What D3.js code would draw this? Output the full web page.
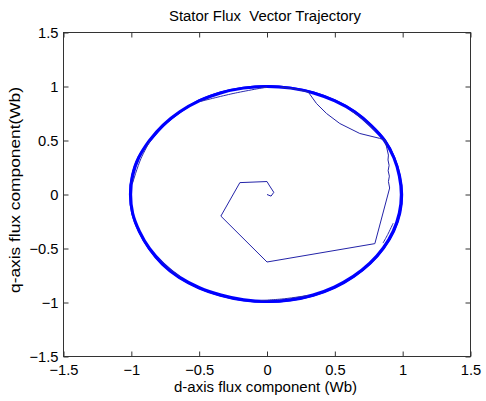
<!DOCTYPE html>
<html>
<head>
<meta charset="utf-8">
<script src="https://cdn.jsdelivr.net/npm/d3@7"></script>
<style>
  html, body { margin: 0; padding: 0; background: #fff; }
  svg { display: block; }
  text { font-family: "Liberation Sans", Arial, sans-serif; fill: #000; }
</style>
</head>
<body>
<svg id="chart" width="486" height="401"></svg>
<script>
// Axis limits and tick labels
const xTicks = [-1.5, -1, -0.5, 0, 0.5, 1, 1.5];
const yTicks = [-1.5, -1, -0.5, 0, 0.5, 1, 1.5];
const titleText = "Stator Flux  Vector Trajectory";
const xLabelText = "d-axis flux component (Wb)";
const yLabelText = "q-axis flux component(Wb)";

// Start-up transient of the stator flux (d, q) in Wb
const transientD = [0.00, 0.03, 0.05, 0.015, 0.00, -0.20, -0.34, 0.00, 0.795, 0.904, 0.895, 0.902, 0.893, 0.900, 0.892, 0.895, 0.87, 0.83, 0.684, 0.537, 0.439, 0.365, 0.304, 0.20, 0.10];
const transientQ = [0.00, -0.015, 0.02, 0.088, 0.12, 0.11, -0.20, -0.625, -0.455, 0.06, 0.12, 0.17, 0.22, 0.27, 0.32, 0.365, 0.503, 0.52, 0.565, 0.657, 0.75, 0.842, 0.949, 0.978, 0.995];

// Steady-state flux circle (one revolution, d, q in Wb)
const circleD = [0.990, 0.975, 0.935, 0.866, 0.762, 0.643, 0.500, 0.342, 0.174, 0.000, -0.174, -0.342, -0.500, -0.643, -0.766, -0.866, -0.944, -0.990, -1.005, -0.990, -0.940, -0.866, -0.766, -0.643, -0.498, -0.339, -0.172, 0.000, 0.172, 0.339, 0.495, 0.636, 0.758, 0.857, 0.930, 0.975];
const circleQ = [0.000, 0.172, 0.340, 0.500, 0.640, 0.766, 0.866, 0.940, 0.985, 1.000, 0.985, 0.940, 0.866, 0.766, 0.643, 0.500, 0.344, 0.175, 0.000, -0.175, -0.342, -0.500, -0.643, -0.766, -0.862, -0.930, -0.975, -0.990, -0.975, -0.930, -0.857, -0.758, -0.636, -0.495, -0.339, -0.172];

// A neighbouring revolution that drifts slightly off the first one
const circle2D = [0.998, 0.982, 0.940, 0.872, 0.770, 0.648, 0.503, 0.345, 0.176, 0.000, -0.176, -0.345, -0.503, -0.640, -0.760, -0.860, -0.950, -0.997, -1.012, -0.995, -0.946, -0.872, -0.775, -0.650, -0.505, -0.344, -0.174, 0.000, 0.174, 0.342, 0.500, 0.641, 0.764, 0.864, 0.938, 0.984];
const circle2Q = [0.000, 0.174, 0.342, 0.503, 0.646, 0.772, 0.872, 0.946, 0.990, 1.006, 0.990, 0.946, 0.872, 0.760, 0.638, 0.497, 0.346, 0.176, 0.000, -0.176, -0.345, -0.503, -0.650, -0.775, -0.870, -0.940, -0.984, -0.998, -0.984, -0.940, -0.866, -0.764, -0.641, -0.498, -0.342, -0.173];

// Short switching chords where the vector cuts inside the circle
const chordsD = [
  [0.00, -0.25, -0.49],
  [-0.86, -0.93, -0.99],
  [-0.79, -0.72, -0.64],
  [0.93, 0.89, 0.855],
  [-0.05, 0.13, 0.30],
  [0.62, 0.71, 0.80]
];
const chordsQ = [
  [0.995, 0.935, 0.862],
  [0.50, 0.33, 0.11],
  [-0.60, -0.685, -0.76],
  [-0.266, -0.37, -0.45],
  [-0.982, -0.965, -0.935],
  [0.775, 0.690, 0.585]
];

const svg = d3.select("#chart");
const x = d3.scaleLinear().domain([-1.5, 1.5]).range([63.5, 470.5]);
const y = d3.scaleLinear().domain([-1.5, 1.5]).range([356.5, 32.5]);

const plot = svg.append("g");

const pts = (ds, qs) => ds.map((d, i) => [d, qs[i]]);
const line = d3.line().x(p => x(p[0])).y(p => y(p[1]));
const loop = d3.line().x(p => x(p[0])).y(p => y(p[1])).curve(d3.curveCatmullRomClosed);
const smooth = d3.line().x(p => x(p[0])).y(p => y(p[1])).curve(d3.curveCatmullRom);

// Steady-state revolutions
plot.append("path")
  .attr("d", loop(pts(circleD, circleQ)))
  .attr("fill", "none").attr("stroke", "#0000ff").attr("stroke-width", 3);
plot.append("path")
  .attr("d", loop(pts(circle2D, circle2Q)))
  .attr("fill", "none").attr("stroke", "#0000ff").attr("stroke-width", 1.6);

// Chords
chordsD.forEach((ds, i) => {
  plot.append("path")
    .attr("d", smooth(pts(ds, chordsQ[i])))
    .attr("fill", "none").attr("stroke", "#2a2ab0").attr("stroke-width", 1);
});

// Transient
plot.append("path")
  .attr("d", line(pts(transientD, transientQ)))
  .attr("fill", "none").attr("stroke", "#2323a8").attr("stroke-width", 1)
  .attr("stroke-linejoin", "round");

// Axes box with inward ticks on all four sides
const axisColor = "#333";
const tickLen = 5;
const xAxisB = d3.axisBottom(x).tickValues(xTicks).tickSizeInner(-tickLen).tickSizeOuter(0).tickPadding(7).tickFormat(d3.format("~g"));
const xAxisT = d3.axisTop(x).tickValues(xTicks).tickSizeInner(-tickLen).tickSizeOuter(0).tickFormat("");
const yAxisL = d3.axisLeft(y).tickValues(yTicks).tickSizeInner(-tickLen).tickSizeOuter(0).tickPadding(5).tickFormat(d3.format("~g"));
const yAxisR = d3.axisRight(y).tickValues(yTicks).tickSizeInner(-tickLen).tickSizeOuter(0).tickFormat("");

function styleAxis(g) {
  g.select(".domain").remove();
  g.selectAll(".tick line").attr("stroke", axisColor);
  g.selectAll(".tick text")
    .style("font-family", "'Liberation Sans', Arial, sans-serif")
    .style("font-size", "14.7px").attr("fill", "#000");
}

svg.append("g").attr("transform", "translate(0,356.5)").call(xAxisB).call(styleAxis);
svg.append("g").attr("transform", "translate(0,32.5)").call(xAxisT).call(styleAxis);
svg.append("g").attr("transform", "translate(63.5,0)").call(yAxisL).call(styleAxis);
svg.append("g").attr("transform", "translate(470.5,0)").call(yAxisR).call(styleAxis);

// x tick labels sit just below the box
svg.selectAll("g").filter(function () { return this.getAttribute("transform") === "translate(0,356.5)"; })
  .selectAll(".tick text").attr("dy", null).attr("y", 18.5);

svg.append("rect")
  .attr("x", 63.5).attr("y", 32.5)
  .attr("width", 407).attr("height", 324)
  .attr("fill", "none").attr("stroke", axisColor).attr("stroke-width", 1);

// Titles
svg.append("text")
  .attr("x", 265).attr("y", 20.5)
  .attr("text-anchor", "middle")
  .style("font-size", "14.7px")
  .style("white-space", "pre")
  .attr("textLength", 192).attr("lengthAdjust", "spacingAndGlyphs")
  .text(titleText);

svg.append("text")
  .attr("x", 265.5).attr("y", 391.5)
  .attr("text-anchor", "middle")
  .style("font-size", "14.7px")
  .attr("textLength", 183).attr("lengthAdjust", "spacingAndGlyphs")
  .text(xLabelText);

svg.append("text")
  .attr("transform", "translate(19.5,190) rotate(-90)")
  .attr("text-anchor", "middle")
  .style("font-size", "15.5px")
  .attr("textLength", 206).attr("lengthAdjust", "spacingAndGlyphs")
  .text(yLabelText);
</script>
</body>
</html>
